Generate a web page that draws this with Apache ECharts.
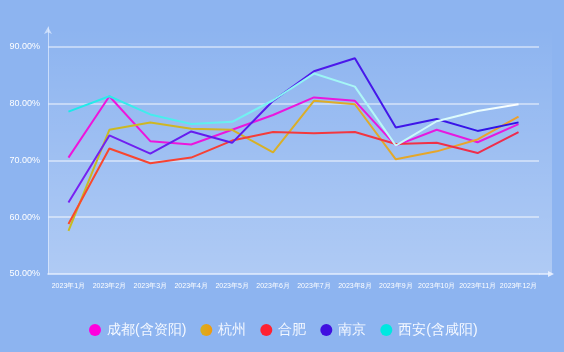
<!DOCTYPE html>
<html>
<head>
<meta charset="utf-8">
<script src="https://cdn.jsdelivr.net/npm/echarts@6/dist/echarts.min.js"></script>
<style>
    html, body { margin: 0; padding: 0; background: #8db4f0; }
</style>
</head>
<body>
<div id="rate" style="width: 564px; height: 352px;"></div>
<script>
// 月份
const months = ['2023年1月', '2023年2月', '2023年3月', '2023年4月', '2023年5月', '2023年6月',
    '2023年7月', '2023年8月', '2023年9月', '2023年10月', '2023年11月', '2023年12月'];

// 各城市数值 (%)
const chengdu = [70.5, 81.3, 73.4, 72.8, 75.4, 78.0, 81.1, 80.5, 72.6, 75.4, 73.2, 76.4];
const hangzhou = [57.6, 75.4, 76.7, 75.6, 75.4, 71.4, 80.5, 79.9, 70.2, 71.6, 73.7, 77.7];
const hefei = [58.8, 72.1, 69.5, 70.5, 73.5, 75.0, 74.8, 75.0, 72.9, 73.1, 71.3, 75.0];
const nanjing = [62.6, 74.4, 71.2, 75.1, 73.1, 80.5, 85.7, 88.0, 75.8, 77.3, 75.2, 76.7];
const xian = [78.6, 81.3, 78.1, 76.4, 76.8, 80.6, 85.3, 83.0, 72.6, 76.9, 78.7, 79.9];

const names = ['成都(含资阳)', '杭州', '合肥', '南京', '西安(含咸阳)'];

function grad(a, b) {
    return new echarts.graphic.LinearGradient(0, 0, 1, 0, [
        {offset: 0, color: a},
        {offset: 1, color: b}
    ]);
}

// 线条用渐变，图例用 icon 颜色
function line(name, data, lineColor, iconColor) {
    return {
        name: name,
        type: 'line',
        data: data,
        symbol: 'none',
        itemStyle: {color: iconColor},
        lineStyle: {width: 2, color: lineColor}
    };
}

let chart = echarts.init(document.getElementById('rate'));
chart.setOption({
    animation: false,
    backgroundColor: '#8db4f0',
    graphic: [
        {
            type: 'rect',
            z: -1,
            shape: {x: 48, y: 27, width: 504, height: 247},
            style: {
                fill: new echarts.graphic.LinearGradient(0, 0, 0, 1, [
                    {offset: 0, color: 'rgba(255,255,255,0)'},
                    {offset: 1, color: 'rgba(255,255,255,0.3)'}
                ])
            }
        },
        {
            type: 'line',
            shape: {x1: 539, y1: 274, x2: 549, y2: 274},
            style: {stroke: 'rgba(235,242,255,0.9)', lineWidth: 1.5}
        },
        {
            type: 'polygon',
            shape: {points: [[548, 271], [554, 274], [548, 277]]},
            style: {fill: 'rgba(235,242,255,0.9)'}
        }
    ],
    grid: {left: 48, right: 25, top: 27, bottom: 78},
    legend: {
        data: names,
        top: 318,
        left: 84,
        icon: 'circle',
        itemWidth: 14,
        itemHeight: 12,
        itemGap: 14,
        textStyle: {color: '#f4f8ff', fontSize: 14}
    },
    xAxis: {
        type: 'category',
        data: months,
        axisLine: {lineStyle: {color: 'rgba(235,242,255,0.9)', width: 1.5}},
        axisTick: {show: false},
        axisLabel: {color: '#ffffff', fontSize: 7, interval: 0, margin: 9}
    },
    yAxis: {
        type: 'value',
        min: 50,
        max: 93.5,
        interval: 10,
        axisLine: {
            show: true,
            symbol: ['none', 'arrow'],
            symbolSize: [6, 7],
            lineStyle: {color: 'rgba(225,236,255,0.7)', width: 1}
        },
        axisLabel: {
            color: '#ffffff',
            fontSize: 9,
            margin: 8,
            showMaxLabel: false,
            formatter: v => v.toFixed(2) + '%'
        },
        splitLine: {
            showMaxLine: false,
            showMinLine: false,
            lineStyle: {color: 'rgba(255,255,255,0.6)', width: 1.5}
        }
    },
    series: [
        line(names[0], chengdu, grad('#ee14dc', '#e41ae0'), '#ff00dd'),
        line(names[1], hangzhou, grad('#c6bc22', '#eea02c'), grad('#d8b020', '#ee9a10')),
        line(names[2], hefei, grad('#fa4a2a', '#ee2a4e'), '#ff2233'),
        line(names[3], nanjing, grad('#7a22f2', '#2c12e6'), '#4010e0'),
        line(names[4], xian, grad('#18e8e8', '#ffffff'), '#00e8e0')
    ]
});
</script>
</body>
</html>
